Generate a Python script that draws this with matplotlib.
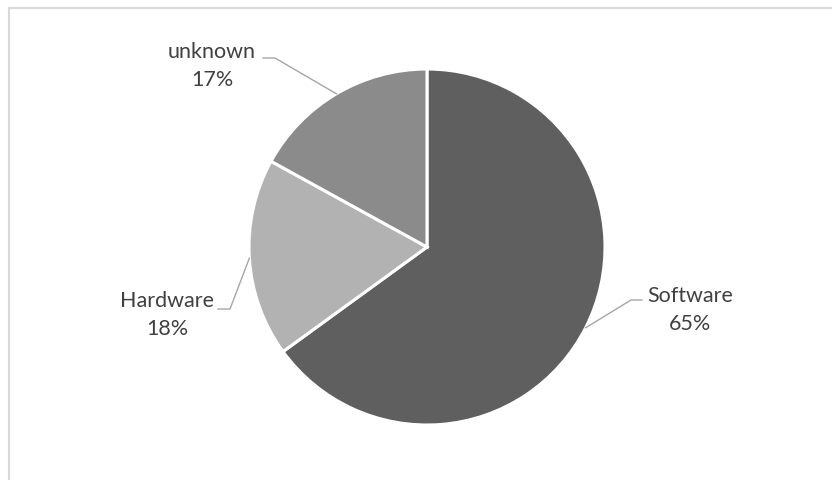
#!/usr/bin/env python3
"""
Pie chart of fault categories with Excel-style leader-line labels.
"""
import numpy as np
import matplotlib.pyplot as plt
from matplotlib.patches import Rectangle

categories = ["Software", "Hardware", "unknown"]
shares = [65, 18, 17]
colors = ["#5f5f5f", "#b2b2b2", "#8b8b8b"]

# canvas in pixel units, y measured from the bottom
W, H = 832, 481
CENTER = (427, H - 248)
RADIUS = 178

# label anchor (text block centre), leader knee, and end of the short horizontal tail
label_pos = {
    "Software": (690, H - 310),
    "Hardware": (167, H - 315),
    "unknown": (212, H - 66),
}
leader_knee = {
    "Software": (631, H - 301),
    "Hardware": (230, H - 310),
    "unknown": (275, H - 59),
}
leader_tail = {
    "Software": (642, H - 301),
    "Hardware": (218, H - 310),
    "unknown": (263, H - 59),
}


def main() -> None:
    plt.rcParams["font.family"] = ["Lato", "DejaVu Sans"]
    fig = plt.figure(figsize=(W / 100, H / 100), dpi=100)
    ax = fig.add_axes([0, 0, 1, 1])

    wedges, _ = ax.pie(
        shares,
        colors=colors,
        startangle=90,
        counterclock=False,
        center=CENTER,
        radius=RADIUS,
        wedgeprops={"edgecolor": "white", "linewidth": 2.2},
    )

    total = sum(shares)
    for wedge, name, value in zip(wedges, categories, shares):
        mid = np.deg2rad((wedge.theta1 + wedge.theta2) / 2)
        start = (CENTER[0] + RADIUS * np.cos(mid), CENTER[1] + RADIUS * np.sin(mid))
        knee = leader_knee[name]
        tail = leader_tail[name]
        ax.plot([start[0], knee[0], tail[0]], [start[1], knee[1], tail[1]],
                color="#a6a6a6", lw=1.0, solid_joinstyle="miter", zorder=1)
        pct = round(100 * value / total)
        ax.text(*label_pos[name], f"{name}\n{pct}%", ha="center", va="center",
                fontsize=15.5, color="#404040", linespacing=1.45)

    # chart-area frame
    ax.add_patch(Rectangle((8.5, -10), W, H - 8.5 + 10, fill=False,
                           edgecolor="#d9d9d9", lw=1.5, zorder=0))

    ax.set_xlim(0, W)
    ax.set_ylim(0, H)
    ax.set_aspect("equal")
    ax.axis("off")
    fig.savefig("out.png", dpi=100, facecolor="white")
    plt.close(fig)


if __name__ == "__main__":
    main()
